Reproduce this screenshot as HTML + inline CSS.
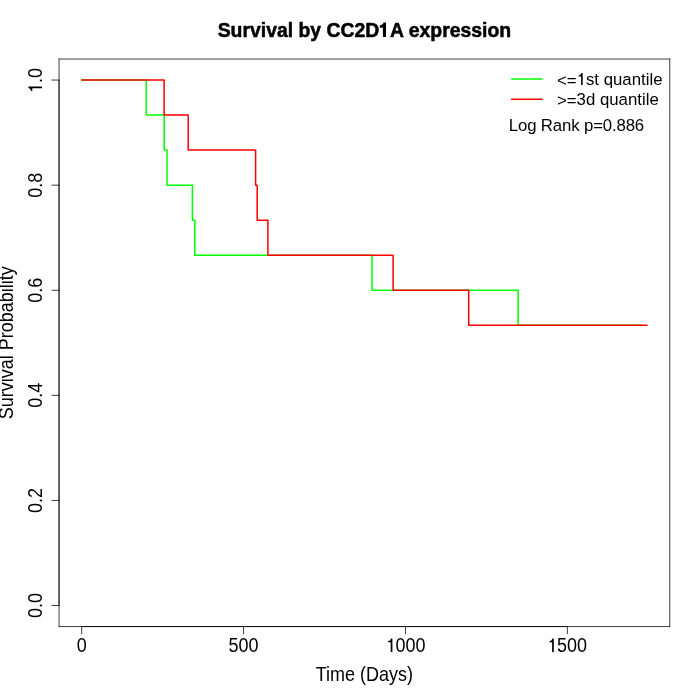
<!DOCTYPE html>
<html>
<head>
<meta charset="utf-8">
<title>Survival by CC2D1A expression</title>
<style>
html,body{margin:0;padding:0;background:#fff;}
body{width:700px;height:700px;overflow:hidden;}
svg{display:block;will-change:transform;}
text{font-family:"Liberation Sans",sans-serif;fill:#000;}
</style>
</head>
<body>
<svg width="700" height="700" viewBox="0 0 700 700">
<rect x="0" y="0" width="700" height="700" fill="#ffffff"/>

<!-- survival curves -->
<g fill="none" stroke-width="1.5" stroke-linecap="round" stroke-linejoin="round">
<polyline stroke="#00ff00" points="81.66,80.06 146.2,80.06 146.2,115.09 164.2,115.09 164.2,150.12 167.0,150.12 167.0,185.16 192.4,185.16 192.4,220.19 194.8,220.19 194.8,255.22 372.0,255.22 372.0,290.25 518.1,290.25 518.1,325.28 642.3,325.28"/>
<polyline stroke="#ff0000" points="81.66,80.06 164.1,80.06 164.1,115.09 188.2,115.09 188.2,150.12 255.6,150.12 255.6,185.16 257.2,185.16 257.2,220.19 267.9,220.19 267.9,255.22 393.1,255.22 393.1,290.25 468.7,290.25 468.7,325.28 647.1,325.28"/>
</g>

<!-- axes and box -->
<g fill="none" stroke="#000" stroke-width="0.75" stroke-linecap="round" stroke-linejoin="round">
<!-- x axis -->
<path d="M81.66,626.56 L567.4,626.56 M81.66,626.56 v7.2 M243.57,626.56 v7.2 M405.49,626.56 v7.2 M567.4,626.56 v7.2"/>
<!-- y axis -->
<path d="M59.04,605.54 L59.04,80.06 M59.04,605.54 h-7.2 M59.04,500.44 h-7.2 M59.04,395.35 h-7.2 M59.04,290.25 h-7.2 M59.04,185.16 h-7.2 M59.04,80.06 h-7.2"/>
<!-- box -->
<path d="M59.04,626.56 L59.04,59.04"/>
<path d="M59.04,59.04 L669.76,59.04"/>
<path d="M669.76,59.04 L669.76,626.56"/>
<path d="M669.76,626.56 L59.04,626.56"/>
<!-- legend lines -->
</g>
<g fill="none" stroke-width="1.5" stroke-linecap="round">
<path stroke="#00ff00" d="M511.6,79.0 H542.1"/>
<path stroke="#ff0000" d="M511.6,99.3 H542.1"/>
</g>

<!-- title -->
<text transform="translate(217.66,37.4) scale(1,1.04)" text-anchor="start" font-size="19.4" font-weight="bold" stroke="#000" stroke-width="0.5" stroke-linejoin="round">Survival by CC2D</text>
<path d="M386,36.9 L382.9,36.9 L382.9,27.7 L379.8,27.7 L379.8,25.3 C381.7,25.2 383,24.2 383.6,22.5 L386,22.5 Z"/>
<text transform="translate(390.084,37.4) scale(1,1.04)" text-anchor="start" font-size="19.4" font-weight="bold" stroke="#000" stroke-width="0.5" stroke-linejoin="round">A expression</text>
<!-- x tick labels -->
<text transform="translate(81.66,651.6) scale(1,1.08)" font-size="18" text-anchor="middle">0</text>
<text transform="translate(243.57,651.6) scale(1,1.08)" font-size="18" text-anchor="middle">500</text>
<path d="M6.5,0 L4.8,0 L4.8,-9.7 L2.2,-9.7 L2.2,-11.0 C3.7,-11.0 4.6,-12.0 5.2,-13.6 L6.5,-13.6 Z" transform="translate(385.9,652)"/>
<text transform="translate(395.48,651.6) scale(1,1.08)" font-size="18" text-anchor="start">000</text>
<path d="M6.5,0 L4.8,0 L4.8,-9.7 L2.2,-9.7 L2.2,-11.0 C3.7,-11.0 4.6,-12.0 5.2,-13.6 L6.5,-13.6 Z" transform="translate(547.3,652)"/>
<text transform="translate(556.9,651.6) scale(1,1.08)" font-size="18" text-anchor="start">500</text>
<text transform="translate(364.4,680.7) scale(1,1.08)" font-size="18" text-anchor="middle">Time (Days)</text>
<!-- y tick labels -->
<text transform="translate(41.76,605.54) rotate(-90) scale(1,1.08)" font-size="18" text-anchor="middle">0.0</text>
<text transform="translate(41.76,500.44) rotate(-90) scale(1,1.08)" font-size="18" text-anchor="middle">0.2</text>
<text transform="translate(41.76,395.35) rotate(-90) scale(1,1.08)" font-size="18" text-anchor="middle">0.4</text>
<text transform="translate(41.76,290.25) rotate(-90) scale(1,1.08)" font-size="18" text-anchor="middle">0.6</text>
<text transform="translate(41.76,185.16) rotate(-90) scale(1,1.08)" font-size="18" text-anchor="middle">0.8</text>
<path d="M6.5,0 L4.8,0 L4.8,-9.7 L2.2,-9.7 L2.2,-11.0 C3.7,-11.0 4.6,-12.0 5.2,-13.6 L6.5,-13.6 Z" transform="translate(42,93.1) rotate(-90)"/>
<text transform="translate(41.76,82.9) rotate(-90) scale(1,1.08)" font-size="18" text-anchor="start">.0</text>
<text transform="translate(12.96,342.8) rotate(-90) scale(1,1.08)" font-size="18" text-anchor="middle">Survival Probability</text>
<!-- legend -->
<text transform="translate(557,86) scale(1,1)" font-size="16.8" text-anchor="start">&lt;=</text>
<path d="M6.5,0 L4.8,0 L4.8,-9.7 L2.2,-9.7 L2.2,-11.0 C3.7,-11.0 4.6,-12.0 5.2,-13.6 L6.5,-13.6 Z" transform="translate(576.62,85) scale(0.9333,0.8824)"/>
<text transform="translate(585.96,85) scale(1,1)" font-size="16.8" text-anchor="start">st quantile</text>
<text transform="translate(557,106) scale(1,1)" font-size="16.8" text-anchor="start">&gt;=</text>
<text transform="translate(576.61,105) scale(1,1)" font-size="16.8" text-anchor="start">3d quantile</text>
<text transform="translate(508.8,131) scale(1,1)" font-size="16.8" text-anchor="start" textLength="135.4" lengthAdjust="spacing">Log Rank p=0.886</text>
</svg>
</body>
</html>
